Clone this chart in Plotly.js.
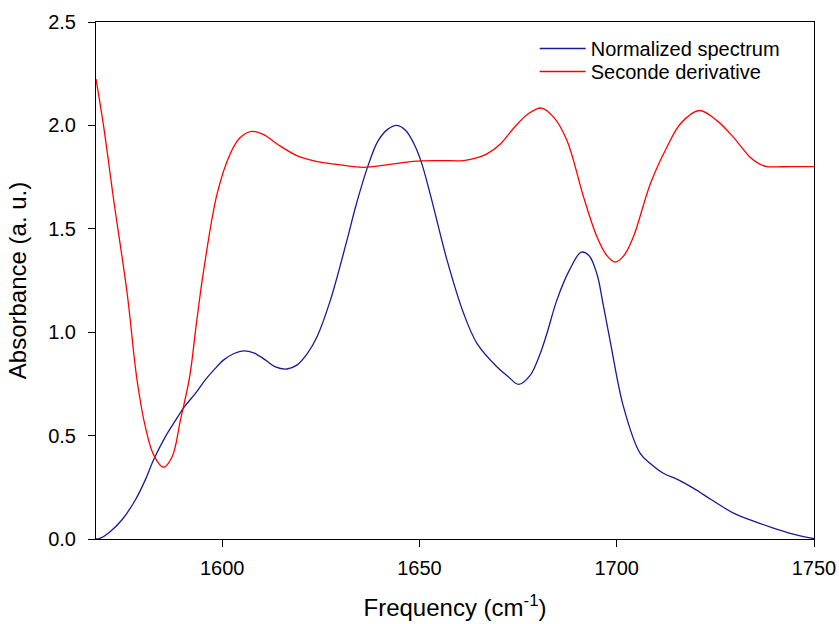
<!DOCTYPE html>
<html>
<head>
<meta charset="utf-8">
<script src="https://cdn.plot.ly/plotly-3.0.1.min.js"></script>
<style>html,body{margin:0;padding:0;background:#fff;}#chart{width:839px;height:624px;}</style>
</head>
<body>
<div id="chart"></div>
<script>
// Normalized spectrum
const specX = [1568, 1569, 1571.2, 1574.6, 1578, 1580.5, 1582.6, 1585.6, 1588.1, 1590.2, 1593.2, 1595.7, 1598, 1600.3, 1603, 1605.4, 1608, 1611, 1613.5, 1616.4, 1619, 1621.5, 1624, 1627.4, 1631.6, 1634, 1636.9, 1639.5, 1642, 1644.3, 1646.5, 1648.5, 1650.4, 1652.7, 1657, 1661.2, 1664.6, 1669.6, 1672.5, 1675.1, 1678, 1680.6, 1682.3, 1684.8, 1688, 1691, 1693, 1695, 1696.5, 1698.3, 1701.7, 1705.9, 1708.5, 1711.8, 1715.5, 1719.4, 1724, 1729.6, 1734.5, 1739.7, 1744.5, 1749, 1750];
const specY = [0, 0.003, 0.029, 0.093, 0.19, 0.286, 0.383, 0.495, 0.572, 0.634, 0.704, 0.769, 0.82, 0.865, 0.897, 0.91, 0.9, 0.865, 0.832, 0.822, 0.842, 0.895, 0.977, 1.154, 1.444, 1.62, 1.802, 1.925, 1.982, 2.0, 1.975, 1.915, 1.826, 1.669, 1.347, 1.09, 0.945, 0.833, 0.785, 0.748, 0.79, 0.897, 0.994, 1.154, 1.30, 1.387, 1.37, 1.28, 1.14, 0.961, 0.64, 0.415, 0.365, 0.318, 0.287, 0.246, 0.19, 0.125, 0.088, 0.053, 0.025, 0.005, 0.002];

// Second derivative
const derivX = [1568, 1569.9, 1572.5, 1575.9, 1578.4, 1580.5, 1582.6, 1585.1, 1587.3, 1589.4, 1591.7, 1593.5, 1595.3, 1598.7, 1602, 1604.5, 1607.5, 1610.5, 1613.9, 1618.9, 1623, 1629.9, 1635.8, 1642, 1648.5, 1655, 1661.2, 1664, 1667.1, 1670.5, 1673.8, 1677.5, 1680.9, 1684, 1687.4, 1691.6, 1695, 1697.5, 1699.6, 1701.8, 1704.2, 1708.5, 1712.7, 1716.1, 1720.9, 1725.4, 1729.6, 1733.8, 1736, 1738, 1744, 1750];
const derivY = [2.224, 2.0, 1.637, 1.187, 0.769, 0.543, 0.407, 0.347, 0.398, 0.575, 0.78, 1.05, 1.30, 1.669, 1.862, 1.94, 1.971, 1.955, 1.91, 1.854, 1.83, 1.809, 1.797, 1.81, 1.826, 1.83, 1.83, 1.84, 1.862, 1.91, 1.985, 2.055, 2.084, 2.04, 1.926, 1.653, 1.46, 1.37, 1.339, 1.37, 1.46, 1.717, 1.894, 2.007, 2.072, 2.023, 1.942, 1.846, 1.815, 1.801, 1.801, 1.801];

const traceNames = ['Normalized spectrum', 'Seconde derivative'];
const xTicks = [1600, 1650, 1700, 1750];
const yTicks = [0, 0.5, 1, 1.5, 2, 2.5];
const yTickLabels = ['0.0', '0.5', '1.0', '1.5', '2.0', '2.5'];

const data = [
  {x: specX, y: specY, type: 'scatter', mode: 'lines', name: traceNames[0], legend: 'legend',
   line: {color: '#1a1a96', width: 1.3, shape: 'spline', smoothing: 1}},
  {x: derivX, y: derivY, type: 'scatter', mode: 'lines', name: traceNames[1], legend: 'legend2',
   line: {color: '#ff0000', width: 1.3, shape: 'spline', smoothing: 1}}
];

const FONT = 'Liberation Sans, Arial, sans-serif';
const axisCommon = {
  showgrid: false, zeroline: false, showline: true, linecolor: '#000', linewidth: 1,
  mirror: true, ticks: 'outside', ticklen: 7, tickwidth: 1, tickcolor: '#000',
  tickfont: {family: FONT, size: 20, color: '#000'}, automargin: false
};
const legendCommon = {x: 0.611, xanchor: 'left', yanchor: 'top', bgcolor: 'rgba(0,0,0,0)',
  font: {size: 20, color: '#000', family: FONT}, itemwidth: 46, tracegroupgap: 0};

const layout = {
  width: 839, height: 624,
  margin: {l: 96, r: 25, t: 22, b: 85, pad: 0},
  paper_bgcolor: '#fff', plot_bgcolor: '#fff',
  font: {family: FONT, color: '#000'},
  showlegend: true,
  legend: Object.assign({}, legendCommon, {y: 0.9865}),
  legend2: Object.assign({}, legendCommon, {y: 0.942}),
  xaxis: Object.assign({}, axisCommon, {
    range: [1568, 1750], tickvals: xTicks, ticktext: xTicks.map(String), ticklabelstandoff: 4,
    title: {text: 'Frequency (cm<sup>-1</sup>)', font: {size: 24, color: '#000'}, standoff: 21}
  }),
  yaxis: Object.assign({}, axisCommon, {
    range: [0, 2.5], tickvals: yTicks, ticktext: yTickLabels, ticklabelstandoff: 8,
    title: {text: 'Absorbance (a. u.)', font: {size: 24, color: '#000'}, standoff: 14}
  })
};

Plotly.newPlot('chart', data, layout, {displayModeBar: false, staticPlot: true});
</script>
</body>
</html>
